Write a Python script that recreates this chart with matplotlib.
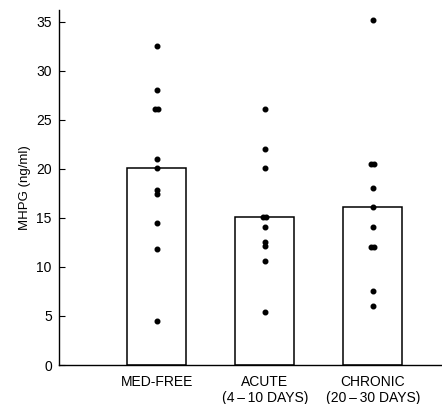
import matplotlib.pyplot as plt
import numpy as np

plt.rcParams['font.family'] = ['Liberation Sans', 'DejaVu Sans']

groups = ['MED-FREE', 'ACUTE\n(4\u2009\u2013\u200910 DAYS)', 'CHRONIC\n(20\u2009\u2013\u200930 DAYS)']
means = [20.1, 15.1, 16.15]
med_free = [32.5, 28.1, 26.1, 26.1, 21.0, 20.1, 17.9, 17.4, 14.5, 11.8, 4.5]
acute = [26.1, 22.0, 20.1, 15.1, 15.1, 14.05, 12.5, 12.1, 10.6, 5.4]
chronic = [35.2, 20.5, 20.5, 18.1, 16.15, 14.05, 12.0, 12.0, 7.55, 6.05]
points = [med_free, acute, chronic]

fig = plt.figure(figsize=(4.42, 4.04), dpi=100)
ax = fig.add_axes([0.133, 0.0965, 0.867, 0.8785])

x = np.arange(len(groups))
ax.bar(x, means, width=0.55, facecolor='white', edgecolor='black', linewidth=1.1, zorder=2)

for i, vals in enumerate(points):
    xs = []
    seen = {}
    for v in vals:
        n = vals.count(v)
        if n > 1:
            k = seen.get(v, 0)
            seen[v] = k + 1
            xs.append(i + (k - (n - 1) / 2) * 0.03)
        else:
            xs.append(i)
    ax.plot(xs, vals, 'o', color='black', markersize=3.3, zorder=3)

ax.set_xlim(-0.907, 2.641)
ax.set_ylim(0, 36.2)
ax.set_yticks([0, 5, 10, 15, 20, 25, 30, 35])
ax.set_xticks(x)
ax.set_xticklabels(groups, fontsize=10, linespacing=1.25)
ax.tick_params(axis='x', length=0, pad=7)
ax.tick_params(axis='y', direction='in', length=4, labelsize=10, pad=5)
ax.set_ylabel('MHPG (ng/ml)', fontsize=9.5, labelpad=4)
for s in ['top', 'right']:
    ax.spines[s].set_visible(False)
ax.spines['left'].set_linewidth(1.0)
ax.spines['bottom'].set_linewidth(1.0)

fig.savefig('out.png', dpi=100)
